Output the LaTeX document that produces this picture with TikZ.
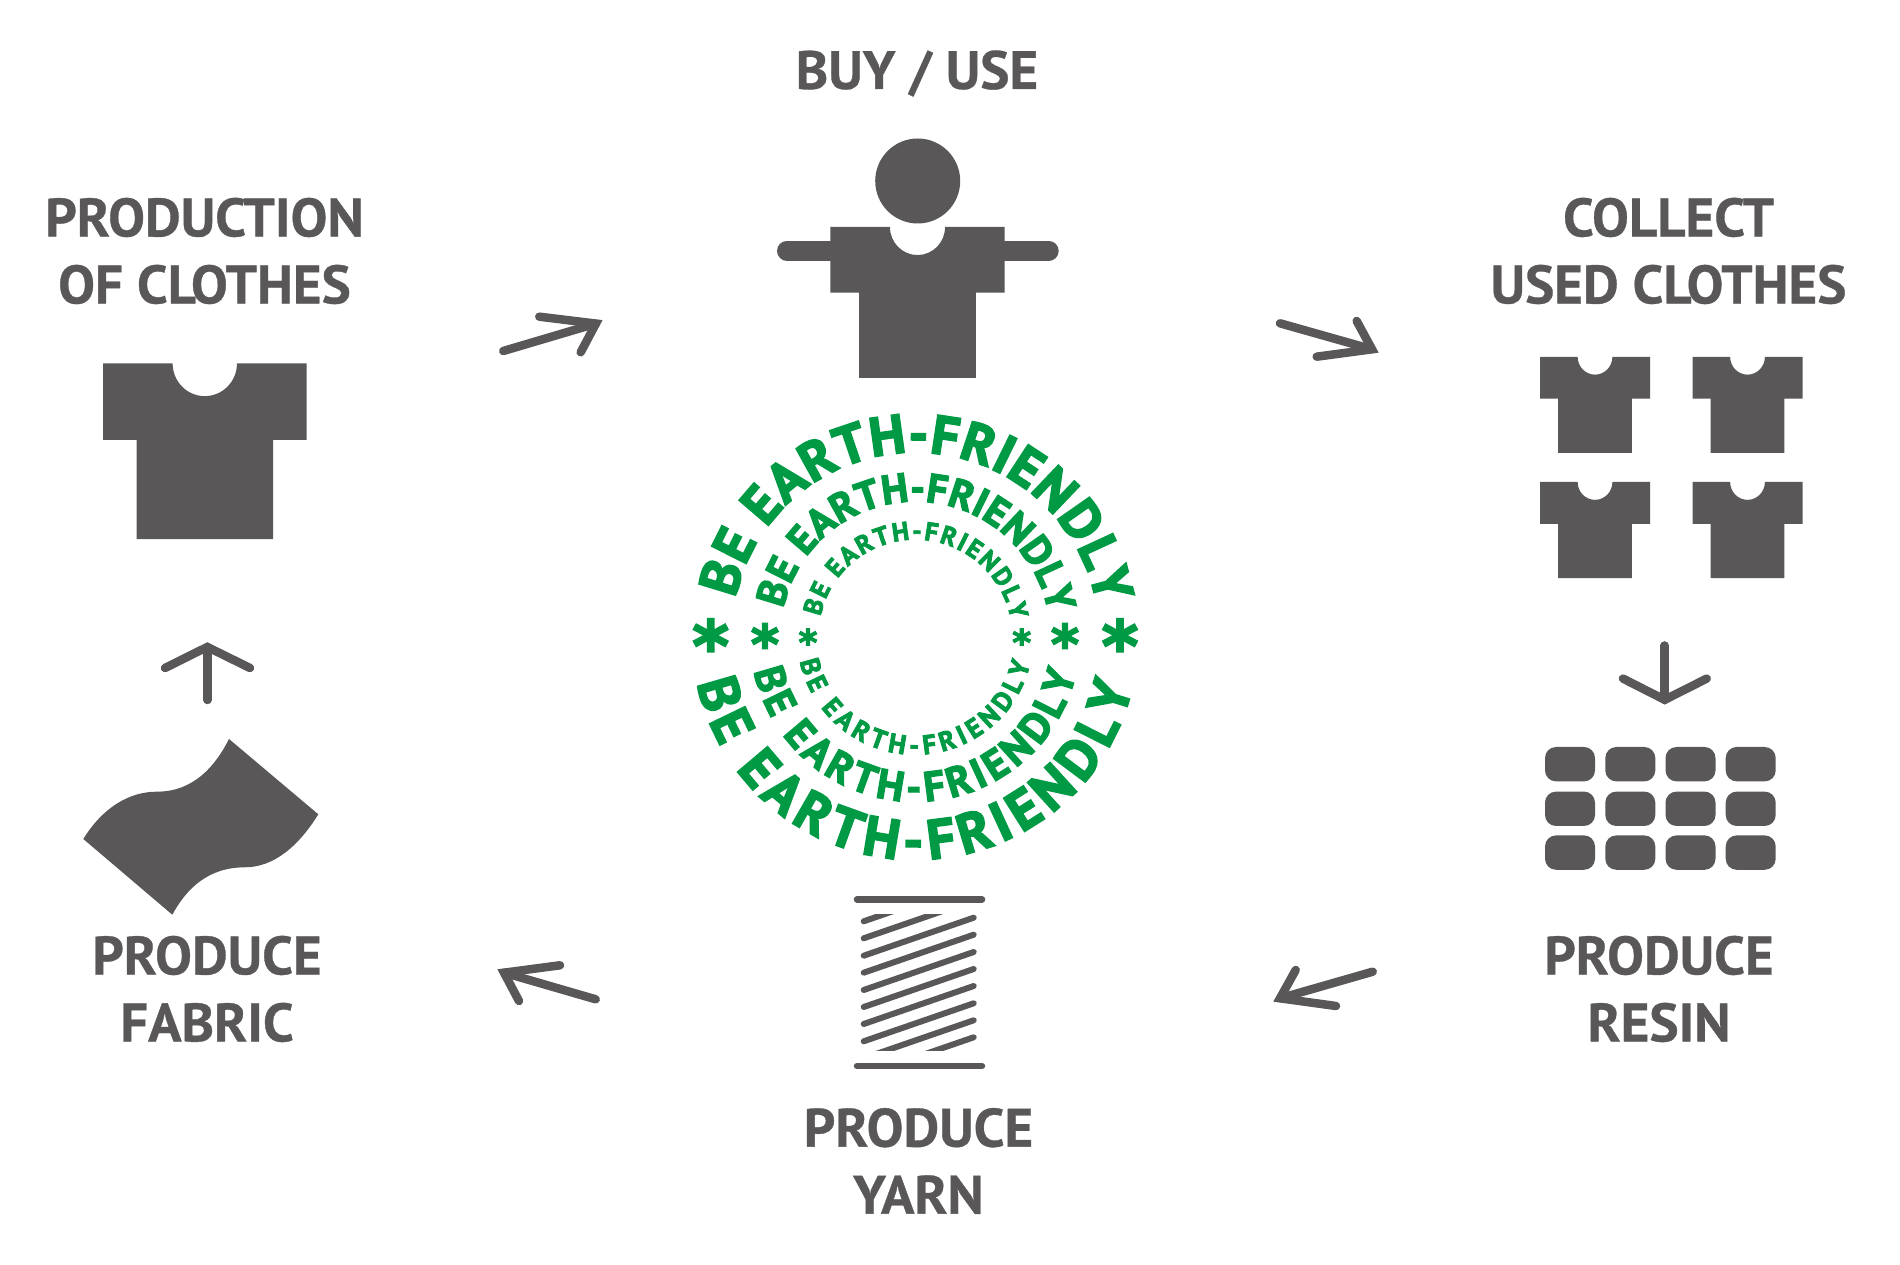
\documentclass[tikz,border=0pt]{standalone}
\usepackage{fontspec}
\usepackage{xcolor}
\usetikzlibrary{decorations.text}
\setmainfont{PT Sans}
\newfontfamily\labelfont[FakeBold=0.6,FakeStretch=1.02]{PT Sans Bold}
\newfontfamily\earthfont[FakeBold=3]{PT Sans Bold}
\newfontfamily\starfont[FakeBold=3]{DejaVu Sans Bold}
\definecolor{ink}{HTML}{595757}
\definecolor{earth}{HTML}{009A44}
\begin{document}
\begin{tikzpicture}[
  x=1pt,y=1pt,
  lbl/.style={font=\labelfont\fontsize{54}{67}\selectfont,text=ink,align=center,inner sep=0pt},
  arw/.style={draw=ink,line width=8.5pt,line cap=round},
  barb/.style={draw=ink,line width=8.5pt,line cap=round,line join=miter},
  pellet/.style={fill=ink,rounded corners=11pt,minimum width=50pt,minimum height=34.4pt,inner sep=0pt},
  thread/.style={draw=ink,line width=6pt,line cap=round},
  ring/.style={decorate,decoration={text along path,text align={fit to path},text={|\earthfont\fontsize{#1}{#1}\selectfont\color{earth}|BE EARTH-FRIENDLY}}},
  ast/.style={text=earth,inner sep=0pt},
  tshirt/.pic={\fill[ink] (-.5,0) -- (-.158,0) arc[start angle=180,end angle=360,radius=.158] -- (.5,0) -- (.5,-.37) -- (.335,-.37) -- (.335,-.85) -- (-.335,-.85) -- (-.335,-.37) -- (-.5,-.37) -- cycle;}
]
\useasboundingbox (0,0) rectangle (1900,1264);
\coordinate (ctr) at (915.3,627.3);

\node[lbl] (buy) at (917,1190.5) {BUY / USE};
\node[lbl] (prod) at (204.5,1013) {PRODUCTION\\OF CLOTHES};
\node[lbl] (coll) at (1668.5,1013) {COLLECT\\USED CLOTHES};
\node[lbl] (fabric) at (207,275) {PRODUCE\\FABRIC};
\node[lbl] (resin) at (1659,275) {PRODUCE\\RESIN};
\node[lbl] (yarn) at (918.5,103) {PRODUCE\\YARN};

% person
\node[circle,fill=ink,minimum size=85pt,inner sep=0pt] (head) at (917.7,1083) {};
\pic (body) at (917.5,1037) [xscale=174.4,yscale=177.6] {tshirt};
\draw[ink,line width=20pt,line cap=round] (787,1013.2) -- (835,1013.2);
\draw[ink,line width=20pt,line cap=round] (1000,1013.2) -- (1048.7,1013.2);

% clothes
\pic (big) at (204.8,900.5) [xscale=203.6,yscale=206.6] {tshirt};
\pic (usedA) at (1595,907.2) [xscale=110,yscale=113] {tshirt};
\pic (usedB) at (1747.5,907.2) [xscale=110,yscale=113] {tshirt};
\pic (usedC) at (1595,782) [xscale=110,yscale=113] {tshirt};
\pic (usedD) at (1747.5,782) [xscale=110,yscale=113] {tshirt};

% resin
\node[pellet] (r11) at (1570,499.8) {};
\node[pellet] (r12) at (1630.3,499.8) {};
\node[pellet] (r13) at (1690.5,499.8) {};
\node[pellet] (r14) at (1750.7,499.8) {};
\node[pellet] (r21) at (1570,455.2) {};
\node[pellet] (r22) at (1630.3,455.2) {};
\node[pellet] (r23) at (1690.5,455.2) {};
\node[pellet] (r24) at (1750.7,455.2) {};
\node[pellet] (r31) at (1570,411.4) {};
\node[pellet] (r32) at (1630.3,411.4) {};
\node[pellet] (r33) at (1690.5,411.4) {};
\node[pellet] (r34) at (1750.7,411.4) {};

% fabric
\fill[ink] (83.3,425) .. controls (103.3,457.3) and (130,472.3) .. (156.7,472.3)
  .. controls (193.3,472.3) and (215,497.3) .. (229,525) -- (318.3,449.7)
  .. controls (298.3,417.3) and (273.3,396.7) .. (245,396.7)
  .. controls (208.3,396.7) and (186.7,375.7) .. (172.3,349.3) -- cycle;

% spool
\draw[thread,line width=6.5pt] (857,364.7) -- (982,364.7);
\draw[thread,line width=6.5pt] (857,198) -- (982,198);
\begin{scope}
\clip (850,213.7) rectangle (990,349);
\draw[thread] (863.7,342.7) -- (973.7,380.7);
\draw[thread] (863.7,325.7) -- (973.7,363.7);
\draw[thread] (863.7,308.3) -- (973.7,346.3);
\draw[thread] (863.7,291.3) -- (973.7,329.3);
\draw[thread] (863.7,274) -- (973.7,312);
\draw[thread] (863.7,257) -- (973.7,295);
\draw[thread] (863.7,240) -- (973.7,278);
\draw[thread] (863.7,222.7) -- (973.7,260.7);
\draw[thread] (863.7,205.7) -- (973.7,243.7);
\draw[thread] (863.7,188.7) -- (973.7,226.7);
\end{scope}

% rings
\path[ring=55] ([shift={(168:184)}]ctr) arc[start angle=168,end angle=10,radius=184];
\path[ring=41] ([shift={(168:135)}]ctr) arc[start angle=168,end angle=10,radius=135];
\path[ring=26] ([shift={(168:97)}]ctr) arc[start angle=168,end angle=10,radius=97];
\path[ring=56] ([shift={(192:223)}]ctr) arc[start angle=192,end angle=347,radius=223];
\path[ring=42] ([shift={(192:165)}]ctr) arc[start angle=192,end angle=347,radius=165];
\path[ring=27] ([shift={(192:118)}]ctr) arc[start angle=192,end angle=347,radius=118];
\node[ast,font=\starfont\fontsize{70}{70}\selectfont] (s1) at (710.7,619) {*};
\node[ast,font=\starfont\fontsize{54}{54}\selectfont] (s2) at (765,620.5) {*};
\node[ast,font=\starfont\fontsize{36}{36}\selectfont] (s3) at (808,622) {*};
\node[ast,font=\starfont\fontsize{36}{36}\selectfont] (s4) at (1021.7,622) {*};
\node[ast,font=\starfont\fontsize{54}{54}\selectfont] (s5) at (1065,620.5) {*};
\node[ast,font=\starfont\fontsize{70}{70}\selectfont] (s6) at (1120,619) {*};

% arrows
\coordinate (a1) at (503.3,913);
\coordinate (a1t) at (595.9,940.4);
\draw[arw] (a1) -- (a1t);
\draw[barb] (539.3,947.3) -- (a1t) -- (580.7,911.7);
\coordinate (a2) at (1280,940.7);
\coordinate (a2t) at (1372,914.7);
\draw[arw] (a2) -- (a2t);
\draw[barb] (1356.7,943) -- (a2t) -- (1316.7,907.3);
\coordinate (a3) at (1664.7,618.5);
\coordinate (a3t) at (1664.7,564.2);
\draw[arw] (a3) -- (a3t);
\draw[barb] (1623,585.4) -- (a3t) -- (1706.7,585.4);
\coordinate (a4) at (1372.7,292.3);
\coordinate (a4t) at (1280,265.7);
\draw[arw] (a4) -- (a4t);
\draw[barb] (1295.7,294) -- (a4t) -- (1336,258);
\coordinate (a5) at (595.7,264.7);
\coordinate (a5t) at (504,291.3);
\draw[arw] (a5) -- (a5t);
\draw[barb] (560,298.7) -- (a5t) -- (519,263);
\coordinate (a6) at (207.3,564);
\coordinate (a6t) at (207.3,617);
\draw[arw] (a6) -- (a6t);
\draw[barb] (165,596) -- (a6t) -- (250,596);
\end{tikzpicture}
\end{document}
